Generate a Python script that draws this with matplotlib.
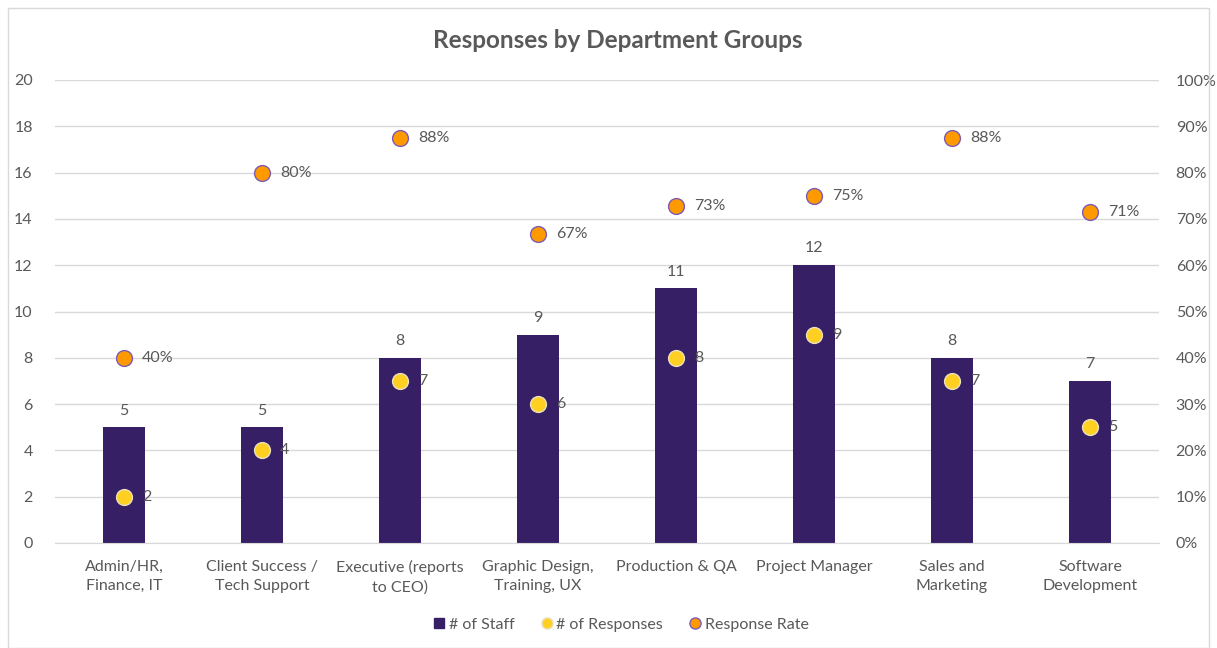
import matplotlib
matplotlib.use("Agg")
import matplotlib.pyplot as plt
from matplotlib.lines import Line2D
from matplotlib.patches import Rectangle

plt.rcParams['font.family'] = ['Lato', 'DejaVu Sans']

categories = ["Admin/HR,\nFinance, IT", "Client Success /\nTech Support", "Executive (reports\nto CEO)",
              "Graphic Design,\nTraining, UX", "Production & QA", "Project Manager",
              "Sales and\nMarketing", "Software\nDevelopment"]
staff = [5, 5, 8, 9, 11, 12, 8, 7]
responses = [2, 4, 7, 6, 8, 9, 7, 5]
rate = [0.40, 0.80, 0.875, 0.667, 0.727, 0.75, 0.875, 0.714]

left_ticks = list(range(0, 21, 2))
right_ticks = [i / 10 for i in range(11)]

TXT = '#595959'
GRID = '#D9D9D9'
BAR = '#371F66'
YEL = '#FFD022'
ORG = '#FF9900'
ORG_EDGE = '#7B5CB8'
FS = 11.5

fig = plt.figure(figsize=(12.17, 6.48), dpi=100)
fig.patches.append(Rectangle((8/1217, 0), 1 - 16/1217, 1 - 8/648, transform=fig.transFigure,
                             fill=False, edgecolor=GRID, linewidth=1))
ax = fig.add_axes([55/1217, 1 - 543/648, 1104/1217, 463/648])
ax2 = ax.twinx()

x = list(range(len(categories)))
ax.bar(x, staff, width=0.31, color=BAR, zorder=2)
ax.set_xlim(-0.5, len(categories) - 0.5)
ax.set_ylim(0, 20)
ax.set_yticks(left_ticks)
ax.grid(axis='y', color=GRID, linewidth=1, zorder=0)
ax.set_axisbelow(True)
ax.set_xticks(x)
ax.set_xticklabels(categories, fontsize=FS, color=TXT, linespacing=1.5)
ax.tick_params(axis='both', length=0, labelsize=FS, labelcolor=TXT)
ax.tick_params(axis='x', pad=12)
ax.tick_params(axis='y', pad=16)
for s in ['top', 'right', 'left']:
    ax.spines[s].set_visible(False)
ax.spines['bottom'].set_color(GRID)
for s in ax2.spines.values():
    s.set_visible(False)

ax.scatter(x, responses, s=130, color=YEL, edgecolor='#E8E0C0', linewidth=1, zorder=4)
for xi, v in zip(x, staff):
    ax.annotate(str(v), (xi, v), xytext=(0, 7), textcoords='offset points',
                ha='center', va='bottom', fontsize=FS, color=TXT)
for xi, v in zip(x, responses):
    ax.annotate(str(v), (xi, v), xytext=(13, 0), textcoords='offset points',
                ha='left', va='center', fontsize=FS, color=TXT, zorder=5)

ax2.set_ylim(0, 1)
ax2.set_yticks(right_ticks)
ax2.set_yticklabels([f"{int(round(t*100))}%" for t in right_ticks])
ax2.tick_params(axis='y', length=0, labelsize=FS, labelcolor=TXT, pad=12)
ax2.scatter(x, rate, s=130, color=ORG, edgecolor=ORG_EDGE, linewidth=1, zorder=4)
for xi, v in zip(x, rate):
    ax2.annotate(f"{round(v*100):.0f}%", (xi, v), xytext=(13, 0), textcoords='offset points',
                 ha='left', va='center', fontsize=FS, color=TXT)

fig.text(618/1217, 1 - 40/648, "Responses by Department Groups", ha='center', va='center',
         fontsize=17.5, fontweight='bold', color=TXT)

handles = [Line2D([], [], marker='s', linestyle='none', markersize=7, color=BAR),
           Line2D([], [], marker='o', linestyle='none', markersize=8, markerfacecolor=YEL, markeredgecolor='#E8E0C0'),
           Line2D([], [], marker='o', linestyle='none', markersize=8, markerfacecolor=ORG, markeredgecolor=ORG_EDGE)]
fig.legend(handles, ["# of Staff", "# of Responses", "Response Rate"], loc='center',
           bbox_to_anchor=(620/1217, 1 - 625/648), ncol=3, frameon=False, fontsize=FS,
           labelcolor=TXT, handletextpad=0.1, columnspacing=1.5, handlelength=1)

fig.savefig("out.png", dpi=100)
